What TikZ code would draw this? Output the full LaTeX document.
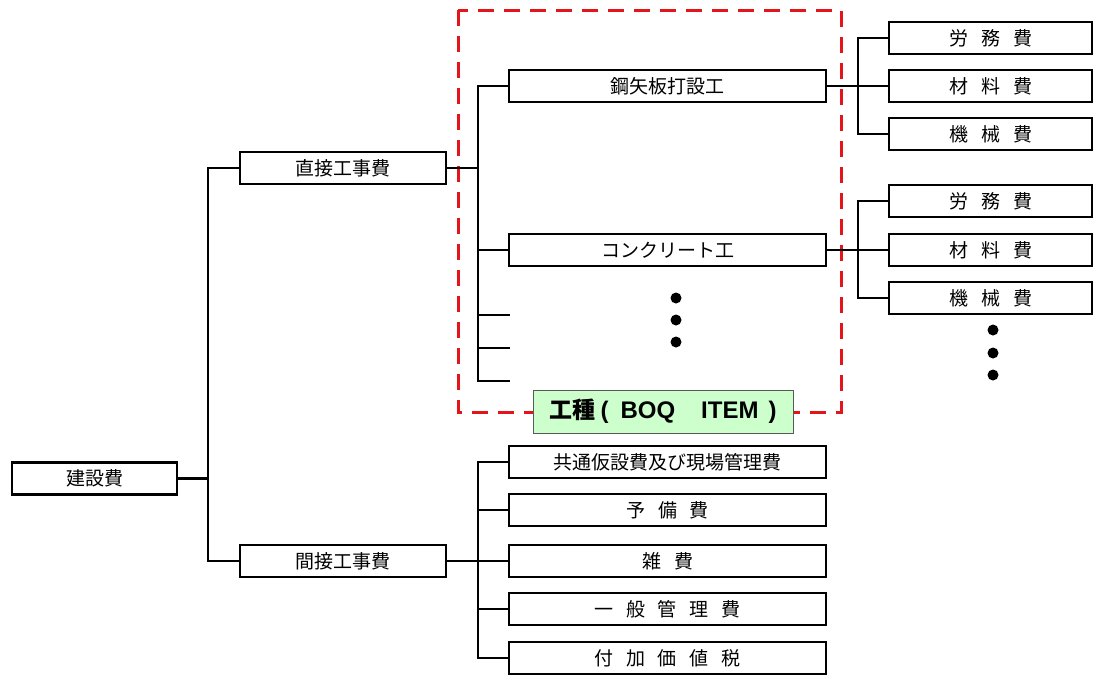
\documentclass[tikz,border=0pt]{standalone}
\usepackage{fontspec}
\newfontfamily\jp{Noto Sans CJK JP}
\newfontfamily\lat{Liberation Sans}
\newcommand\jpf{\jp\fontsize{19}{22}\selectfont}
\newcommand\gp{\hspace{13pt}}
\definecolor{dashred}{HTML}{E3151A}
\definecolor{boqgreen}{HTML}{CCFFCC}
\begin{document}
\begin{tikzpicture}[x=1pt,y=-1pt,
  box/.style={draw=black,line width=2.1pt,minimum height=32pt,inner sep=0pt,font=\jpf,text=black},
  wbox/.style={box,minimum width=206pt},
  mbox/.style={box,minimum width=317pt},
  rbox/.style={box,minimum width=203pt},
  wire/.style={line width=2.1pt,draw=black},
  dotmark/.style={fill=black},
  redframe/.style={draw=dashred,line width=3pt,dash pattern=on 16pt off 10pt},
  boqbox/.style={draw=black!65,line width=1pt,fill=boqgreen,minimum width=260pt,minimum height=43pt,inner sep=0pt}
]
\useasboundingbox (0,0) rectangle (1095,675);

% red dashed frame
\draw[redframe] (458,10) rectangle (841,412);

% boxes
\node[box,minimum width=165pt] (root) at (94.5,478.5) {建設費};
\node[wbox] (direct) at (343,168) {直接工事費};
\node[wbox] (indirect) at (343,561) {間接工事費};
\node[mbox] (kou) at (667.5,86) {鋼矢板打設工};
\node[mbox] (conc) at (667.5,250) {コンクリート工};

\node[rbox] (ra1) at (990.5,38) {労\gp 務\gp 費};
\node[rbox] (ra2) at (990.5,86) {材\gp 料\gp 費};
\node[rbox] (ra3) at (990.5,134) {機\gp 械\gp 費};
\node[rbox] (rb1) at (990.5,201) {労\gp 務\gp 費};
\node[rbox] (rb2) at (990.5,250) {材\gp 料\gp 費};
\node[rbox] (rb3) at (990.5,298) {機\gp 械\gp 費};

\node[mbox] (i1) at (667.5,462) {共通仮設費及び現場管理費};
\node[mbox] (i2) at (667.5,510) {予\gp 備\gp 費};
\node[mbox] (i3) at (667.5,561) {雑\gp 費};
\node[mbox] (i4) at (667.5,609) {一\gp 般\gp 管\gp 理\gp 費};
\node[mbox] (i5) at (667.5,658) {付\gp 加\gp 価\gp 値\gp 税};

% bus coordinates
\coordinate (b0) at (208,0);
\coordinate (b1) at (478,0);
\coordinate (b2) at (858,0);
\coordinate (s1) at (510,315);
\coordinate (s2) at (510,348);
\coordinate (s3) at (510,381);

% root level
\draw[wire] (root.east) -- (root.east -| b0);
\draw[wire] (direct.west) -- (direct.west -| b0) |- (indirect.west);

% direct works
\draw[wire] (direct.east) -- (direct.east -| b1);
\draw[wire] (kou.west) -- (kou.west -| b1) |- (s3);
\draw[wire] (conc.west) -- (conc.west -| b1);
\draw[wire] (s1 -| b1) -- (s1);
\draw[wire] (s2 -| b1) -- (s2);

% cost breakdown 1
\draw[wire] (kou.east) -- (ra2.west);
\draw[wire] (ra1.west) -- (ra1.west -| b2) |- (ra3.west);
% cost breakdown 2
\draw[wire] (conc.east) -- (rb2.west);
\draw[wire] (rb1.west) -- (rb1.west -| b2) |- (rb3.west);

% indirect
\draw[wire] (indirect.east) -- (indirect.east -| b1);
\draw[wire] (i1.west) -- (i1.west -| b1) |- (i5.west);
\draw[wire] (i2.west) -- (i2.west -| b1);
\draw[wire] (i3.west) -- (i3.west -| b1);
\draw[wire] (i4.west) -- (i4.west -| b1);

% dots
\fill[dotmark] (676,298) circle (5.5pt);
\fill[dotmark] (676,320) circle (5.5pt);
\fill[dotmark] (676,342) circle (5.5pt);
\fill[dotmark] (993,330) circle (5.5pt);
\fill[dotmark] (993,353) circle (5.5pt);
\fill[dotmark] (993,375) circle (5.5pt);

% BOQ label
\node[boqbox] (boq) at (663,411.5) {{\jp\bfseries\fontsize{23}{26}\selectfont 工種}{\lat\bfseries\fontsize{24}{26}\selectfont\hspace{5pt}(\hspace{12pt}BOQ\hspace{26pt}ITEM\hspace{10pt})}};
\end{tikzpicture}
\end{document}
